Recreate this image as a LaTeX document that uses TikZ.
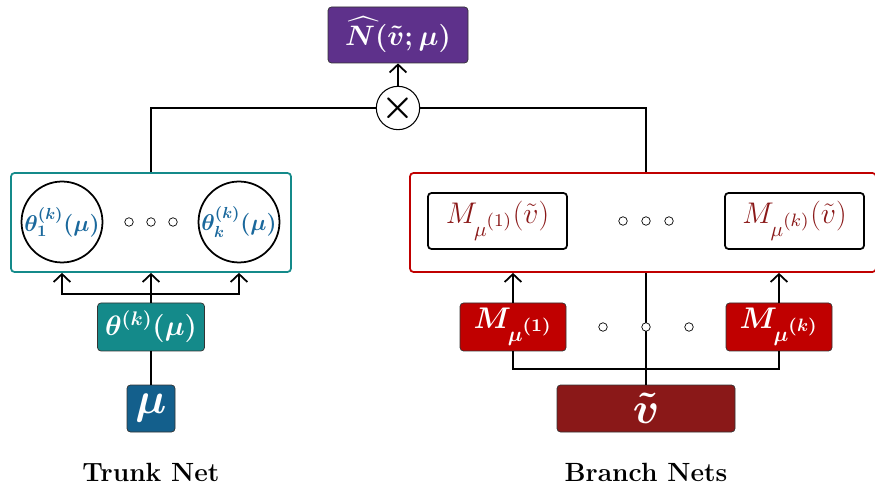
\documentclass[tikz,border=0pt]{standalone}
\usepackage{fix-cm}
\usepackage[usenames,dvipsnames]{xcolor}
\usepackage{amsmath}
\usepackage{tikz}
\usetikzlibrary{calc}
\usetikzlibrary{positioning}
\usetikzlibrary{arrows.meta}

\definecolor{nhatpurple}{RGB}{94,49,139}
\definecolor{trunkteal}{RGB}{20,138,138}
\definecolor{mublue}{RGB}{19,95,140}
\definecolor{branchred}{RGB}{192,0,0}
\definecolor{vdarkred}{RGB}{138,24,24}
\definecolor{thetatext}{RGB}{26,104,156}

\newcommand\musup[1]{\mu^{\raisebox{2.5pt}{\scalebox{1.2}{$\scriptscriptstyle#1$}}}}

\tikzset{
  fillbox/.style={rectangle, draw=black!80, thin, rounded corners=2pt, text=white, inner sep=0pt},
  netbox/.style={rectangle, line width=1pt, rounded corners=2pt, minimum width=5.6cm, minimum height=1.98cm},
  thetacirc/.style={circle, draw=black, line width=1pt, minimum size=1.48cm, inner sep=0pt, text=thetatext, font=\fontsize{13}{15}\selectfont},
  mbox/.style={rectangle, draw=black, line width=1pt, rounded corners=2pt, minimum width=2.78cm, minimum height=1.12cm, text=vdarkred, font=\fontsize{17}{19}\selectfont},
  dot/.style={circle, draw=black, thin, fill=white, minimum size=0.17cm, inner sep=0pt},
  conn/.style={black, line width=1pt},
  arr/.style={conn, -{Straight Barb[length=4.5pt,width=9.5pt]}}
}

\begin{document}
\begin{tikzpicture}

\newcommand\bh{0.96cm}

\useasboundingbox (0,0) rectangle (17.5,9.7);

% output and product
\node at (7.96,9.0) [fillbox, fill=nhatpurple, minimum height=1.12cm, minimum width=2.8cm, font=\fontsize{16}{18}\selectfont] (nhat) {$\boldsymbol{\widehat{N\mkern4mu}\mkern-4mu(\tilde{v};\mu)}$};
\node at (7.96,7.54) [circle, draw=black, semithick, fill=white, minimum size=0.8cm, inner sep=0pt, font=\fontsize{21}{24}\selectfont] (times) {$\boldsymbol{\times}$};

% trunk net
\node at (3.02,5.25) [netbox, draw=trunkteal] (trunk) {};
\node at (1.24,5.26) [thetacirc] (th1) {$\boldsymbol{\theta_1^{(k)}(\mu)}$};
\node at (4.78,5.26) [thetacirc] (thk) {$\boldsymbol{\theta_k^{(k)}(\mu)}$};
\node at (2.58,5.26) [dot] (td1) {};
\node at (3.02,5.26) [dot] (td2) {};
\node at (3.46,5.26) [dot] (td3) {};

\node at (3.02,3.16) [fillbox, fill=trunkteal, minimum width=2.14cm, minimum height=\bh, font=\fontsize{16}{18}\selectfont] (theta) {$\boldsymbol{\theta^{(k)}(\mu)}$};
\node at (3.02,1.53) [fillbox, fill=mublue, minimum width=0.96cm, minimum height=0.94cm, font=\fontsize{25}{28}\selectfont] (mu) {$\boldsymbol{\mu}$};

% branch nets
\node at (12.86,5.25) [netbox, draw=branchred, minimum width=9.32cm] (branch) {};
\node at (9.95,5.28) [mbox] (mv1) {$M_{\musup{(1)}}(\tilde{v})$};
\node at (15.89,5.28) [mbox] (mvk) {$M_{\musup{(k)}}(\tilde{v})$};
\node at (12.46,5.28) [dot] (bd1) {};
\node at (12.92,5.28) [dot] (bd2) {};
\node at (13.38,5.28) [dot] (bd3) {};

\node at (10.26,3.16) [fillbox, fill=branchred, minimum width=2.12cm, minimum height=\bh, font=\fontsize{17}{19}\selectfont] (m1) {$\boldsymbol{M_{\musup{(1)}}}$};
\node at (15.58,3.16) [fillbox, fill=branchred, minimum width=2.12cm, minimum height=\bh, font=\fontsize{17}{19}\selectfont] (mk) {$\boldsymbol{M_{\musup{(k)}}}$};
\node at (12.92,1.53) [fillbox, fill=vdarkred, minimum width=3.56cm, minimum height=0.94cm, font=\fontsize{25}{28}\selectfont] (vt) {$\boldsymbol{\tilde{v}}$};

% connections
\draw[conn] (trunk.north) |- (times.west);
\draw[conn] (branch.north -| vt) |- (times.east);
\draw[arr] (times) -- (nhat);

\coordinate (tj) at (3.02,3.82);
\draw[conn] (mu) -- (theta);
\draw[conn] (theta) -- (tj);
\draw[arr] (tj) -| (th1 |- trunk.south);
\draw[arr] (tj) -| (thk |- trunk.south);
\draw[arr] (tj) -- (trunk.south);

\coordinate (bj) at (12.92,2.32);
\draw[arr] (m1) -- (m1 |- branch.south);
\draw[arr] (mk) -- (mk |- branch.south);
\draw[conn] (m1) |- (bj) -| (mk);
\draw[conn] (vt) -- (vt |- branch.south);

\node at (12.06,3.16) [dot] (md1) {};
\node at (12.92,3.16) [dot] (md2) {};
\node at (13.78,3.16) [dot] (md3) {};

% labels
\node at (3.02,0.26) (trunklabel) {\fontsize{15}{17}\selectfont\textbf{Trunk Net}};
\node at (12.92,0.26) (branchlabel) {\fontsize{15}{17}\selectfont\textbf{Branch Nets}};

\end{tikzpicture}
\end{document}
